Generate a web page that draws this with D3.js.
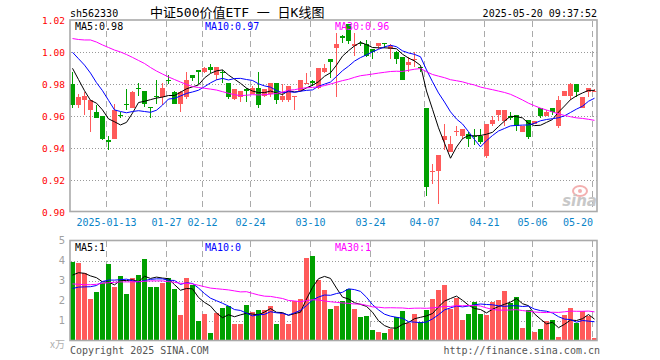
<!DOCTYPE html>
<html>
<head>
<meta charset="utf-8">
<script src="https://cdn.jsdelivr.net/npm/d3@7"></script>
<style>
body { margin: 0; background: #fff; }
text { font-family: "DejaVu Sans Mono", "Noto Sans CJK SC", monospace; }
</style>
</head>
<body>
<svg width="660" height="360"></svg>
<script>
// trading days shown (2025-01-03 .. 2025-05-20)
const dates = [
  "2025-01-03","2025-01-06","2025-01-07","2025-01-08","2025-01-09","2025-01-10","2025-01-13","2025-01-14","2025-01-15","2025-01-16",
  "2025-01-17","2025-01-20","2025-01-21","2025-01-22","2025-01-23","2025-01-24","2025-01-27","2025-02-05","2025-02-06","2025-02-07",
  "2025-02-10","2025-02-11","2025-02-12","2025-02-13","2025-02-14","2025-02-17","2025-02-18","2025-02-19","2025-02-20","2025-02-21",
  "2025-02-24","2025-02-25","2025-02-26","2025-02-27","2025-02-28","2025-03-03","2025-03-04","2025-03-05","2025-03-06","2025-03-07",
  "2025-03-10","2025-03-11","2025-03-12","2025-03-13","2025-03-14","2025-03-17","2025-03-18","2025-03-19","2025-03-20","2025-03-21",
  "2025-03-24","2025-03-25","2025-03-26","2025-03-27","2025-03-28","2025-03-31","2025-04-01","2025-04-02","2025-04-03","2025-04-07",
  "2025-04-08","2025-04-09","2025-04-10","2025-04-11","2025-04-14","2025-04-15","2025-04-16","2025-04-17","2025-04-18","2025-04-21",
  "2025-04-22","2025-04-23","2025-04-24","2025-04-25","2025-04-28","2025-04-29","2025-04-30","2025-05-06","2025-05-07","2025-05-08",
  "2025-05-09","2025-05-12","2025-05-13","2025-05-14","2025-05-15","2025-05-16","2025-05-19","2025-05-20"
];
const open = [
  0.980,0.967,0.970,0.964,0.963,0.960,0.945,0.946,0.961,0.968,
  0.965,0.978,0.976,0.966,0.973,0.972,0.983,0.975,0.968,0.972,
  0.986,0.989,0.988,0.991,0.986,0.988,0.981,0.971,0.972,0.977,
  0.974,0.978,0.973,0.974,0.981,0.970,0.970,0.972,0.976,0.980,
  0.982,0.978,0.988,0.996,1.003,1.010,1.018,1.004,1.006,1.005,
  1.002,1.004,1.006,1.002,1.000,0.997,0.992,0.995,0.991,0.965,
  0.925,0.926,0.945,0.938,0.950,0.948,0.949,0.948,0.948,0.935,
  0.955,0.961,0.957,0.960,0.961,0.950,0.958,0.955,0.965,0.960,
  0.965,0.954,0.973,0.973,0.980,0.965,0.975,0.975
];
const high = [
  0.988,0.974,0.975,0.970,0.967,0.960,0.948,0.968,0.963,0.977,
  0.976,0.981,0.976,0.966,0.983,0.981,0.986,0.976,0.976,0.988,
  0.986,0.989,0.991,0.993,0.991,0.989,0.981,0.977,0.976,0.978,
  0.979,0.988,0.977,0.981,0.981,0.980,0.979,0.973,0.983,0.987,
  0.983,0.990,0.993,0.996,1.012,1.011,1.018,1.012,1.007,1.008,
  1.002,1.006,1.006,1.005,1.001,0.997,0.997,1.000,0.991,0.965,
  0.930,0.936,0.955,0.948,0.954,0.952,0.950,0.952,0.952,0.955,
  0.960,0.964,0.964,0.963,0.961,0.954,0.958,0.957,0.965,0.964,
  0.965,0.973,0.976,0.981,0.980,0.972,0.978,0.977
];
const low = [
  0.965,0.965,0.961,0.950,0.959,0.945,0.939,0.946,0.959,0.964,
  0.965,0.973,0.966,0.959,0.968,0.967,0.980,0.968,0.963,0.971,
  0.982,0.980,0.987,0.987,0.983,0.981,0.971,0.970,0.969,0.969,
  0.974,0.965,0.972,0.972,0.968,0.969,0.969,0.964,0.976,0.980,
  0.979,0.977,0.987,0.984,0.972,1.006,1.005,0.998,1.004,0.997,
  0.996,1.002,1.003,0.996,0.993,0.983,0.988,0.991,0.988,0.910,
  0.918,0.905,0.939,0.938,0.948,0.946,0.941,0.942,0.943,0.934,
  0.954,0.957,0.954,0.958,0.951,0.950,0.946,0.955,0.959,0.960,
  0.961,0.953,0.973,0.970,0.972,0.965,0.972,0.975
];
const close = [
  0.967,0.972,0.973,0.970,0.959,0.946,0.944,0.964,0.960,0.967,
  0.975,0.977,0.968,0.965,0.972,0.978,0.982,0.968,0.975,0.983,
  0.984,0.988,0.990,0.989,0.991,0.987,0.972,0.977,0.976,0.976,
  0.978,0.967,0.977,0.981,0.970,0.973,0.979,0.973,0.983,0.981,
  0.981,0.990,0.990,0.994,1.005,1.009,1.007,1.005,1.005,0.998,
  1.000,1.006,1.005,1.004,0.996,0.983,0.994,0.996,0.990,0.916,
  0.926,0.936,0.948,0.943,0.951,0.952,0.946,0.947,0.944,0.955,
  0.958,0.964,0.964,0.959,0.954,0.954,0.947,0.957,0.960,0.963,
  0.963,0.970,0.976,0.980,0.975,0.972,0.978,0.976
];
// volume, x万
const volume = [
  3.94,3.89,3.36,2.08,2.43,2.89,3.83,2.68,3.23,2.34,
  3.13,3.29,4.07,2.68,2.68,2.89,3.13,2.58,1.28,3.13,
  2.79,0.98,1.34,0.37,1.39,1.62,1.72,0.84,0.84,1.78,
  1.43,1.53,1.53,1.72,0.84,1.36,0.84,1.96,2.08,4.14,
  4.24,3.03,2.53,1.58,1.72,1.99,2.56,1.58,1.18,1.22,
  0.53,0.43,0.37,0.58,1.18,1.48,0.88,1.33,0.93,1.53,
  2.08,2.53,2.78,1.58,2.13,1.03,1.33,1.93,1.33,1.28,
  1.93,2.03,2.48,1.88,2.18,0.63,1.53,0.43,0.58,0.98,
  1.03,0.18,1.28,1.63,0.88,1.48,1.22,0.13
];
const ma5Head = [0.990,0.983,0.976,0.970];
const ma10Head = [1.000,0.996,0.992,0.987,0.981,0.976,0.970,0.964,0.963];
const ma30Head = [1.0086,1.0080,1.0077,1.0077,1.0064,1.0046,1.0030,1.0014,1.0002,0.9986,
  0.9968,0.9949,0.9930,0.9905,0.9883,0.9864,0.9846,0.9830,0.9814,0.9799,
  0.9786,0.9780,0.9775,0.9770,0.9764,0.9754,0.9744,0.9735,0.9729];
const volMa5Head = [3.27,3.39,3.36,3.23];
const volMa10Head = [2.60,2.67,2.68,2.69,2.75,2.95,3.02,3.02,3.04];
const volMa30Head = [2.83,2.81,2.79,2.79,2.81,2.86,2.89,2.91,2.93,2.93,
  2.93,2.94,2.96,2.98,2.98,2.98,2.94,2.91,2.86,2.86,
  2.83,2.76,2.69,2.62,2.59,2.56,2.53,2.48,2.43];

const tickDates = ["2025-01-13","2025-01-27","2025-02-12","2025-02-24","2025-03-10","2025-03-24","2025-04-07","2025-04-21","2025-05-06","2025-05-20"];
const tickLabels = ["2025-01-13","01-27","02-12","02-24","03-10","03-24","04-07","04-21","05-06","05-20"];
const priceTicks = [1.02,1.00,0.98,0.96,0.94,0.92,0.90];
const volTicks = [5,4,3,2,1];
const priceLegend = ["MA5:0.98","MA10:0.97","MA30:0.96"];
const volLegend = ["MA5:1","MA10:0","MA30:1"];

const RED = "#ff5a5a", GREEN = "#00a000";
const maColors = ["#000000","#0000ff","#ff00ff"];

const svg = d3.select("svg");

const x = d3.scaleBand().domain(dates).range([70, 598]).padding(0);
const y = d3.scaleLinear().domain([0.90, 1.02]).range([212.3, 20.3]);
const yv = d3.scaleLinear().domain([0, 5]).range([340.5, 240.5]);

function movingAvg(arr, n, head) {
  return arr.map(function(v, i) {
    if (i < head.length) return head[i];
    return d3.mean(arr.slice(i - n + 1, i + 1));
  });
}

const bars = dates.map(function(d, i) {
  return {date: d, o: open[i], h: high[i], l: low[i], c: close[i], v: volume[i],
          up: close[i] > open[i] || (close[i] === open[i] && i > 0 && close[i] >= close[i-1])};
});

// ---- grid ----
const grid = svg.append("g").attr("shape-rendering", "crispEdges");

grid.selectAll(".vg1").data(tickDates).enter().append("line")
  .attr("x1", d => x(d) + 0.5).attr("x2", d => x(d) + 0.5)
  .attr("y1", 21).attr("y2", 211)
  .attr("stroke", "#aaa").attr("stroke-dasharray", "6,4");
grid.selectAll(".vg2").data(tickDates).enter().append("line")
  .attr("x1", d => x(d) + 0.5).attr("x2", d => x(d) + 0.5)
  .attr("y1", 241).attr("y2", 340)
  .attr("stroke", "#aaa").attr("stroke-dasharray", "6,4");

grid.selectAll(".hg1").data(priceTicks.slice(1, -1)).enter().append("line")
  .attr("x1", 71).attr("x2", 597)
  .attr("y1", d => Math.round(y(d)) + 0.5).attr("y2", d => Math.round(y(d)) + 0.5)
  .attr("stroke", "#999").attr("stroke-dasharray", "1,2");
grid.selectAll(".hg2").data(volTicks.slice(1)).enter().append("line")
  .attr("x1", 71).attr("x2", 597)
  .attr("y1", d => Math.round(yv(d)) + 0.5).attr("y2", d => Math.round(yv(d)) + 0.5)
  .attr("stroke", "#999").attr("stroke-dasharray", "1,2");

// watermark
const wm = svg.append("g");
wm.append("ellipse").attr("cx", 580).attr("cy", 191).attr("rx", 7).attr("ry", 5)
  .attr("fill", "none").attr("stroke", "#f3b0b0").attr("stroke-width", 2);
wm.append("circle").attr("cx", 580).attr("cy", 191).attr("r", 2).attr("fill", "#f3b0b0");
wm.append("text").attr("x", 597).attr("y", 206).attr("text-anchor", "end")
  .style("font-family", "DejaVu Sans").style("font-style", "italic").style("font-weight", "bold")
  .style("font-size", "15px").attr("fill", "#c8c8c8").text("sina");

// ---- candles ----
const candles = svg.append("g").attr("shape-rendering", "crispEdges");
candles.selectAll(".wick").data(bars).enter().append("line")
  .attr("x1", d => x(d.date) + 2.5).attr("x2", d => x(d.date) + 2.5)
  .attr("y1", d => y(d.h)).attr("y2", d => y(d.l))
  .attr("stroke", d => d.up ? RED : GREEN);
candles.selectAll(".body").data(bars).enter().append("rect")
  .attr("x", d => x(d.date))
  .attr("width", 5)
  .attr("y", d => y(Math.max(d.o, d.c)))
  .attr("height", d => Math.max(1, Math.abs(y(d.o) - y(d.c))))
  .attr("fill", d => d.up ? RED : GREEN);

// ---- volume ----
const vol = svg.append("g").attr("shape-rendering", "crispEdges");
vol.selectAll("rect").data(bars).enter().append("rect")
  .attr("x", d => x(d.date))
  .attr("width", 5)
  .attr("y", d => yv(d.v))
  .attr("height", d => yv(0) - yv(d.v))
  .attr("fill", d => d.up ? RED : GREEN);

// ---- moving averages ----
const priceMas = [movingAvg(close, 5, ma5Head), movingAvg(close, 10, ma10Head), movingAvg(close, 30, ma30Head)];
const volMas = [movingAvg(volume, 5, volMa5Head), movingAvg(volume, 10, volMa10Head), movingAvg(volume, 30, volMa30Head)];

const priceLine = d3.line().x((d, i) => x(dates[i]) + 2.5).y(d => y(d));
const volLine = d3.line().x((d, i) => x(dates[i]) + 2.5).y(d => yv(d));

svg.append("g").selectAll("path").data(priceMas).enter().append("path")
  .attr("d", priceLine).attr("fill", "none")
  .attr("stroke", (d, i) => maColors[i]).attr("stroke-width", 1);
svg.append("g").selectAll("path").data(volMas).enter().append("path")
  .attr("d", volLine).attr("fill", "none")
  .attr("stroke", (d, i) => maColors[i]).attr("stroke-width", 1);

// ---- frames ----
svg.append("rect").attr("x", 70).attr("y", 20).attr("width", 527).attr("height", 191.5)
  .attr("fill", "none").attr("stroke", "#aaa").attr("stroke-width", 1.6);
svg.append("rect").attr("x", 70).attr("y", 240.5).attr("width", 527).attr("height", 100)
  .attr("fill", "none").attr("stroke", "#aaa").attr("stroke-width", 1.6);

// ---- axis labels ----
svg.append("g").selectAll("text").data(priceTicks).enter().append("text")
  .attr("x", 65).attr("y", d => y(d)).attr("dy", "0.36em")
  .attr("text-anchor", "end").attr("fill", "#ff0000").style("font-size", "9.5px")
  .text(d => d3.format(".2f")(d));

svg.append("g").selectAll("text").data(volTicks).enter().append("text")
  .attr("x", 65).attr("y", d => yv(d)).attr("dy", "0.36em")
  .attr("text-anchor", "end").attr("fill", "#a0a0a0")
  .style("font-family", "DejaVu Sans").style("font-size", "10px")
  .text(d => d);
svg.append("text").attr("x", 65).attr("y", 348).attr("text-anchor", "end")
  .attr("fill", "#b0b0b0").style("font-family", "Noto Sans CJK SC").style("font-size", "10px").text("x万");

svg.append("g").selectAll("text").data(tickDates).enter().append("text")
  .attr("x", (d, i) => i === tickDates.length - 1 ? x(d) + 1 : x(d) + 0.5)
  .attr("y", 226)
  .attr("text-anchor", (d, i) => i === tickDates.length - 1 ? "end" : "middle")
  .attr("fill", "#0a84c8").style("font-size", "10px")
  .text((d, i) => tickLabels[i]);

// ---- legends ----
const legendX = [75, 205, 335];
svg.append("g").selectAll("text").data(priceLegend).enter().append("text")
  .attr("x", (d, i) => legendX[i]).attr("y", 30)
  .attr("fill", (d, i) => maColors[i]).style("font-size", "10px").text(d => d);
svg.append("g").selectAll("text").data(volLegend).enter().append("text")
  .attr("x", (d, i) => legendX[i]).attr("y", 250.5)
  .attr("fill", (d, i) => maColors[i]).style("font-size", "10px").text(d => d);

// ---- header / footer ----
svg.append("text").attr("x", 70).attr("y", 17).style("font-size", "10px").attr("fill", "#000").text("sh562330");
svg.append("text").attr("x", 150).attr("y", 17).style("font-size", "13px").attr("fill", "#000").text("中证500价值ETF 一 日K线图");
svg.append("text").attr("x", 597).attr("y", 17).attr("text-anchor", "end").style("font-size", "10px").attr("fill", "#000").text("2025-05-20 09:37:52");
svg.append("text").attr("x", 70).attr("y", 354).style("font-size", "10px").attr("fill", "#555").text("Copyright 2025 SINA.COM");
svg.append("text").attr("x", 600).attr("y", 354).attr("text-anchor", "end").style("font-size", "10px").attr("fill", "#555").text("http://finance.sina.com.cn");
</script>
</body>
</html>
